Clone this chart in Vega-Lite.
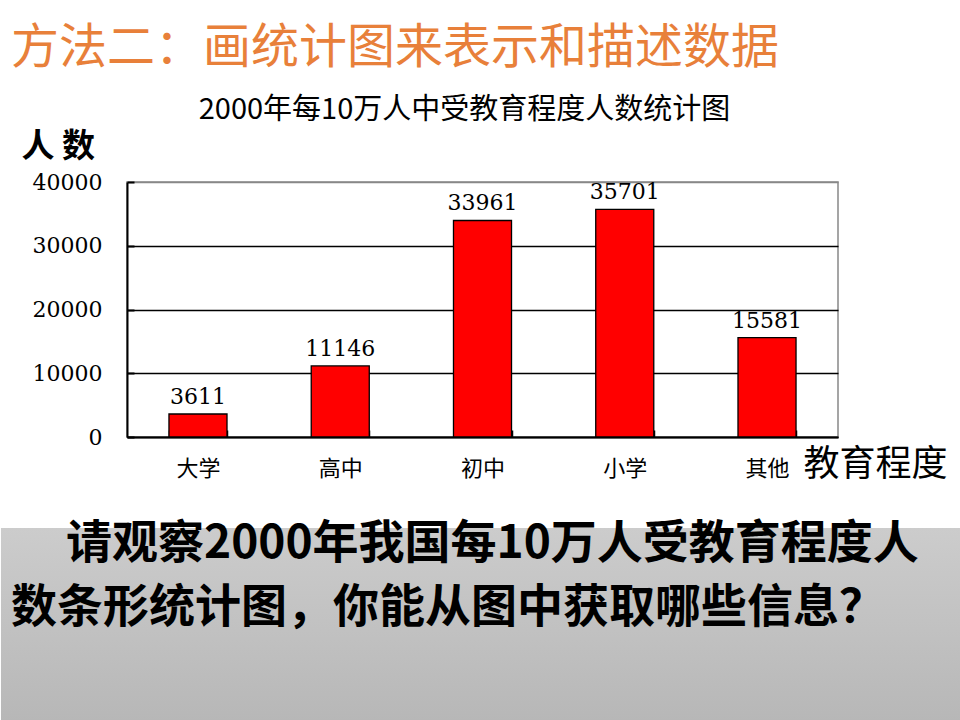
{
  "$schema": "https://vega.github.io/schema/vega-lite/v6.json",
  "background": "white",
  "padding": {"left": 0, "top": 25, "right": 0, "bottom": 0},
  "title": {
    "text": "方法二：画统计图来表示和描述数据",
    "anchor": "start",
    "fontSize": 48,
    "font": "Noto Sans CJK SC",
    "fontWeight": "normal",
    "color": "#E8803A",
    "dx": 10,
    "offset": 22
  },
  "spacing": 38,
  "vconcat": [
    {
      "width": 711,
      "height": 255,
      "view": {"stroke": "#888888", "strokeWidth": 1.5},
      "title": {
        "text": "2000年每10万人中受教育程度人数统计图",
        "fontSize": 29,
        "font": "Noto Sans CJK SC",
        "fontWeight": "normal",
        "color": "black",
        "anchor": "middle",
        "dx": -18,
        "offset": 5
      },
      "data": {
        "values": [
          {"level": "大学", "count": 3611},
          {"level": "高中", "count": 11146},
          {"level": "初中", "count": 33961},
          {"level": "小学", "count": 35701},
          {"level": "其他", "count": 15581}
        ]
      },
      "encoding": {
        "x": {
          "field": "level",
          "type": "nominal",
          "sort": null,
          "scale": {"paddingInner": 0.592, "paddingOuter": 0.295},
          "axis": {
            "title": "教育程度",
            "titleFont": "Noto Sans CJK SC",
            "titleFontSize": 36,
            "titleFontWeight": "normal",
            "titleColor": "black",
            "titleAngle": 0,
            "titleAlign": "left",
            "titleBaseline": "middle",
            "titleX": 676,
            "titleY": 27,
            "labelAngle": 0,
            "labelFont": "Noto Sans CJK SC",
            "labelFontSize": 22,
            "labelColor": "black",
            "labelPadding": 28,
            "tickBand": "extent",
            "tickSize": -7,
            "tickColor": "black",
            "tickWidth": 1.5,
            "domainColor": "black",
            "domainWidth": 2
          }
        },
        "y": {
          "field": "count",
          "type": "quantitative",
          "scale": {"domain": [0, 40000]},
          "axis": {
            "values": [0, 10000, 20000, 30000, 40000],
            "format": "d",
            "title": "人 数",
            "titleFont": "Noto Sans CJK SC",
            "titleFontSize": 33,
            "titleFontWeight": "bold",
            "titleColor": "black",
            "titleAngle": 0,
            "titleAlign": "left",
            "titleBaseline": "middle",
            "titleX": -106,
            "titleY": -36,
            "labelFont": "DejaVu Serif",
            "labelFontSize": 22,
            "labelColor": "black",
            "labelPadding": 32,
            "tickSize": -7,
            "tickColor": "black",
            "tickWidth": 2,
            "domainColor": "black",
            "domainWidth": 2,
            "grid": true,
            "gridColor": {"condition": {"test": "datum.value == 40000", "value": "#888888"}, "value": "black"},
            "gridWidth": 1.5
          }
        }
      },
      "layer": [
        {
          "mark": {"type": "bar", "fill": "#FF0000", "stroke": "black", "strokeWidth": 1.3}
        },
        {
          "mark": {"type": "text", "baseline": "bottom", "dy": -5, "font": "DejaVu Serif", "fontSize": 22, "color": "black"},
          "encoding": {"text": {"field": "count", "type": "quantitative", "format": "d"}}
        }
      ]
    },
    {
      "width": 834,
      "height": 194,
      "view": {"stroke": null},
      "data": {
        "values": [
          {"line": 1, "question": "请观察2000年我国每10万人受教育程度人"},
          {"line": 2, "question": "数条形统计图，你能从图中获取哪些信息？"}
        ]
      },
      "resolve": {"scale": {"y": "independent"}},
      "layer": [
        {
          "mark": {
            "type": "rect",
            "fill": {
              "gradient": "linear",
              "x1": 0, "y1": 0, "x2": 0, "y2": 1,
              "stops": [
                {"offset": 0, "color": "#cccccc"},
                {"offset": 1, "color": "#b7b7b7"}
              ]
            }
          },
          "encoding": {
            "x": {"datum": -0.1511, "type": "quantitative", "scale": {"domain": [0, 1]}, "axis": null},
            "x2": {"datum": 1},
            "y": {"datum": 0, "type": "quantitative", "scale": {"domain": [0, 1]}, "axis": null},
            "y2": {"datum": 1}
          }
        },
        {
          "encoding": {
            "text": {"field": "question", "type": "nominal"},
            "y": {"field": "line", "type": "ordinal", "scale": {"type": "point", "padding": 1.2018, "align": 0}, "axis": null}
          },
          "layer": [
            {
              "transform": [{"filter": "datum.line == 1"}],
              "mark": {
                "type": "text",
                "align": "left",
                "baseline": "top",
                "dy": -6,
                "font": "Noto Sans CJK SC",
                "fontSize": 46,
                "fontWeight": "bold",
                "color": "black"
              },
              "encoding": {
                "x": {"datum": -0.0731, "type": "quantitative"}
              }
            },
            {
              "transform": [{"filter": "datum.line == 2"}],
              "mark": {
                "type": "text",
                "align": "left",
                "baseline": "top",
                "dy": -7,
                "font": "Noto Sans CJK SC",
                "fontSize": 46,
                "fontWeight": "bold",
                "color": "black"
              },
              "encoding": {
                "x": {"datum": -0.1391, "type": "quantitative"}
              }
            }
          ]
        }
      ]
    }
  ],
  "config": {
    "font": "Noto Sans CJK SC"
  }
}
